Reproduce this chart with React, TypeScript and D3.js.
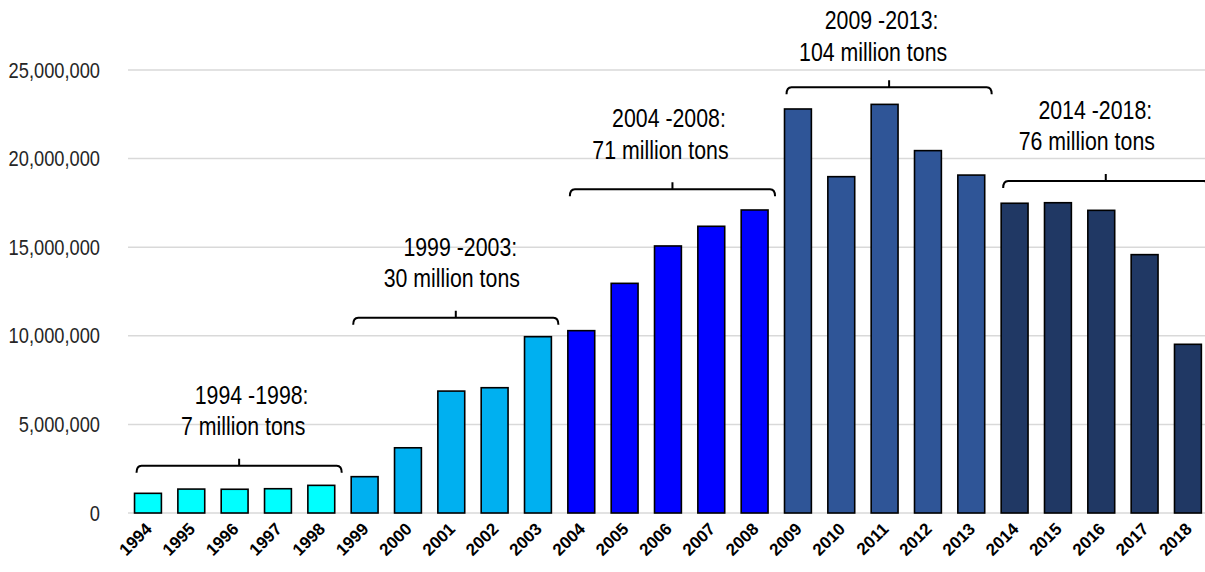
import React from "react";
import * as d3 from "d3";

const years = ["1994","1995","1996","1997","1998","1999","2000","2001","2002","2003","2004","2005","2006","2007","2008","2009","2010","2011","2012","2013","2014","2015","2016","2017","2018"];
const tons = [1110000,1350000,1340000,1370000,1560000,2050000,3680000,6880000,7070000,9950000,10290000,12960000,15070000,16180000,17100000,22800000,18980000,23060000,20450000,19070000,17480000,17510000,17080000,14580000,9520000];
const periodColors = ["#00FFFF","#00B0F0","#0000FF","#2F5597","#203864"];
const yTicks = [0,5000000,10000000,15000000,20000000,25000000];

const annotations = [
  { from: "1994", to: "1998", level: 2670000, line1: "1994 -1998:", line2: "7 million tons", dx: 4, dy: 0 },
  { from: "1999", to: "2003", level: 11020000, line1: "1999 -2003:", line2: "30 million tons", dx: -4, dy: 0 },
  { from: "2004", to: "2008", level: 18270000, line1: "2004 -2008:", line2: "71 million tons", dx: -12, dy: 0 },
  { from: "2009", to: "2013", level: 24020000, line1: "2009 -2013:", line2: "104 million tons", dx: -16, dy: 4 },
  { from: "2014", to: "2018", level: 18740000, line1: "2014 -2018:", line2: "76 million tons", dx: -19, dy: 0 },
];

const W = 1205, H = 572;
const SANS = "'Liberation Sans', Arial, sans-serif";

function Narrow({ x, y, anchor, size, children, dy, sx = 0.82, fill = "#000" }: any) {
  return (
    <text transform={`translate(${x},${y}) scale(${sx},1)`} dy={dy} textAnchor={anchor}
      fontFamily={SANS} fontSize={size} fill={fill}>{children}</text>
  );
}

export default function App() {
  const x = d3.scaleBand<string>().domain(years).range([126.3, 1209.6]).paddingInner(0.38).paddingOuter(0.19);
  const y = d3.scaleLinear().domain([0, 25000000]).range([513, 70]);
  const fmt = d3.format(",");
  const bw = x.bandwidth();

  return (
    <svg width={W} height={H} style={{ position: "absolute", left: 0, top: 0, background: "#fff" }}>
      {yTicks.map((t) => (
        <g key={t}>
          <line x1={128} x2={W} y1={y(t)} y2={y(t)} stroke="#d9d9d9" strokeWidth={1.5} />
          <Narrow x={100} y={y(t)} dy="0.35em" anchor="end" size={21.5} sx={0.85} fill="#262626">{fmt(t)}</Narrow>
        </g>
      ))}
      {years.map((yr, i) => (
        <rect key={yr} x={x(yr)} y={y(tons[i])} width={bw} height={y(0) - y(tons[i])}
          fill={periodColors[Math.floor(i / 5)]} stroke="#000" strokeWidth={1.6} />
      ))}
      {years.map((yr) => {
        const cx = (x(yr) as number) + bw / 2 + 5;
        const cy = 530;
        return (
          <text key={yr} x={cx} y={cy} textAnchor="end" transform={`rotate(-45 ${cx} ${cy})`}
            fontFamily={SANS} fontWeight="bold" fontSize={17} fill="#000">{yr}</text>
        );
      })}
      {annotations.map((a) => {
        const left = (x(a.from) as number) + 2;
        const right = (x(a.to) as number) + bw + 7;
        const mid = (left + right) / 2;
        const ly = y(a.level);
        const path = `M${left},${ly + 7} Q${left},${ly} ${left + 5},${ly} L${right - 5},${ly} Q${right},${ly} ${right},${ly + 7} M${mid},${ly} L${mid},${ly - 7}`;
        return (
          <g key={a.from}>
            <path d={path} fill="none" stroke="#000" strokeWidth={2} />
            <Narrow x={mid + a.dx + 8.5} y={ly - 62 + a.dy} anchor="middle" size={26}>{a.line1}</Narrow>
            <Narrow x={mid + a.dx} y={ly - 30.5 + a.dy} anchor="middle" size={26}>{a.line2}</Narrow>
          </g>
        );
      })}
    </svg>
  );
}
